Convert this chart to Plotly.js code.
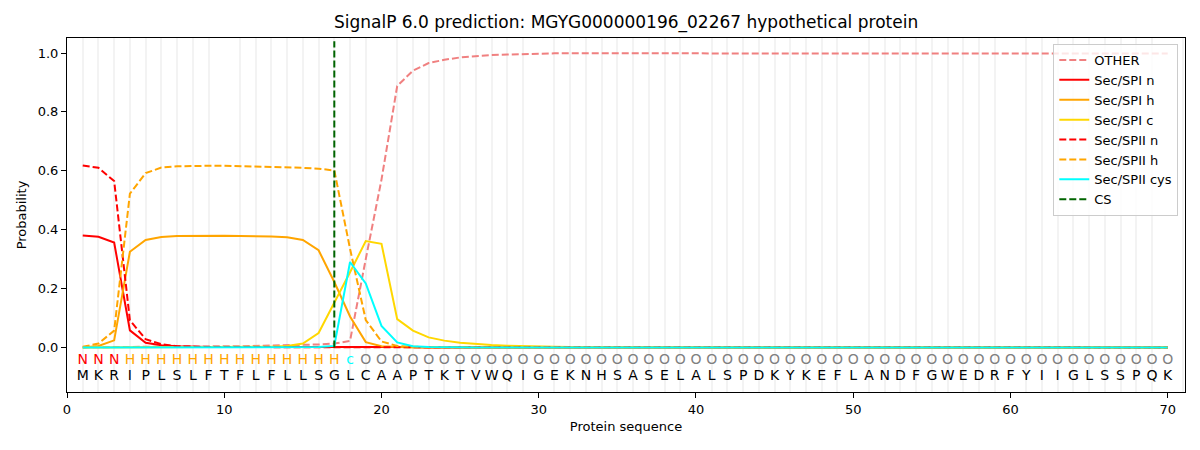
<!DOCTYPE html>
<html>
<head>
<meta charset="utf-8">
<script src="https://cdn.plot.ly/plotly-3.0.1.min.js"></script>
<style>
  body { margin: 0; background: #fff; }
  #chart { width: 1200px; height: 450px; }
</style>
</head>
<body>
<div id="chart"></div>
<script>
// residues and per-position region labels
const sequence = 'MKRIPLSLFTFLFLLSGLCAAPTKTVWQIGEKNHSASELALSPDKYKEFLANDFGWEDRFYIIGLSSPQK'.split('');
const regionLabels = 'NNNHHHHHHHHHHHHHHcOOOOOOOOOOOOOOOOOOOOOOOOOOOOOOOOOOOOOOOOOOOOOOOOOOOO'.split('');
const positions = sequence.map((s, i) => i + 1);
const csPos = 17;

// probabilities, positions 1..70
const other = [0.000, 0.001, 0.001, 0.002, 0.002, 0.002, 0.003, 0.003, 0.003, 0.004,
               0.004, 0.005, 0.006, 0.007, 0.008, 0.010, 0.013, 0.022, 0.300, 0.570,
               0.888, 0.940, 0.966, 0.977, 0.985, 0.990, 0.993, 0.995, 0.997, 0.998,
               0.999, 0.999, 0.999, 0.999, 0.999, 0.999, 0.999, 0.999, 0.999, 0.999,
               0.999, 0.999, 0.999, 0.999, 0.999, 0.999, 0.999, 0.999, 0.999, 0.999,
               0.999, 0.999, 0.999, 0.999, 0.999, 0.998, 0.998, 0.998, 0.998, 0.998,
               0.998, 0.998, 0.997, 0.997, 0.997, 0.997, 0.998, 0.998, 0.998, 0.998];
const spiN = [0.380, 0.376, 0.356, 0.058, 0.016, 0.007, 0.004, 0.002, 0.001, 0.001,
              0.001, 0.001, 0.001, 0.001, 0.001, 0.001, 0.002, 0.003, 0.003, 0.002,
              0.002, 0.001, 0.000, 0.000, 0.000, 0.000, 0.000, 0.000, 0.000, 0.000,
              0.000, 0.000, 0.000, 0.000, 0.000, 0.000, 0.000, 0.000, 0.000, 0.000,
              0.000, 0.000, 0.000, 0.000, 0.000, 0.000, 0.000, 0.000, 0.000, 0.000,
              0.000, 0.000, 0.000, 0.000, 0.000, 0.000, 0.000, 0.000, 0.000, 0.000,
              0.000, 0.001, 0.001, 0.001, 0.001, 0.001, 0.001, 0.001, 0.000, 0.000];
const spiH = [0.000, 0.005, 0.024, 0.325, 0.365, 0.375, 0.378, 0.379, 0.379, 0.379,
              0.378, 0.378, 0.377, 0.374, 0.365, 0.330, 0.222, 0.105, 0.018, 0.004,
              0.001, 0.000, 0.000, 0.000, 0.000, 0.000, 0.000, 0.000, 0.000, 0.000,
              0.000, 0.000, 0.000, 0.000, 0.000, 0.000, 0.000, 0.000, 0.000, 0.000,
              0.000, 0.000, 0.000, 0.000, 0.000, 0.000, 0.000, 0.000, 0.000, 0.000,
              0.000, 0.000, 0.000, 0.000, 0.000, 0.000, 0.000, 0.000, 0.000, 0.000,
              0.000, 0.000, 0.000, 0.000, 0.000, 0.000, 0.000, 0.000, 0.000, 0.000];
const spiC = [0.000, 0.000, 0.000, 0.000, 0.000, 0.000, 0.000, 0.000, 0.000, 0.001,
              0.001, 0.001, 0.002, 0.005, 0.013, 0.049, 0.150, 0.255, 0.361, 0.352,
              0.096, 0.057, 0.034, 0.023, 0.016, 0.011, 0.008, 0.006, 0.004, 0.003,
              0.002, 0.001, 0.001, 0.001, 0.001, 0.000, 0.000, 0.000, 0.000, 0.000,
              0.000, 0.000, 0.000, 0.000, 0.000, 0.000, 0.000, 0.000, 0.000, 0.000,
              0.000, 0.000, 0.000, 0.000, 0.000, 0.000, 0.000, 0.000, 0.000, 0.000,
              0.000, 0.000, 0.000, 0.000, 0.000, 0.000, 0.000, 0.000, 0.000, 0.000];
const spiiN = [0.618, 0.610, 0.565, 0.092, 0.028, 0.011, 0.004, 0.002, 0.001, 0.001,
               0.001, 0.000, 0.000, 0.000, 0.000, 0.000, 0.000, 0.000, 0.000, 0.000,
               0.000, 0.000, 0.000, 0.000, 0.000, 0.000, 0.000, 0.000, 0.000, 0.000,
               0.000, 0.000, 0.000, 0.000, 0.000, 0.000, 0.000, 0.000, 0.000, 0.000,
               0.000, 0.000, 0.000, 0.000, 0.000, 0.000, 0.000, 0.000, 0.000, 0.000,
               0.000, 0.000, 0.000, 0.000, 0.000, 0.000, 0.000, 0.000, 0.000, 0.000,
               0.000, 0.000, 0.000, 0.000, 0.000, 0.000, 0.000, 0.000, 0.000, 0.000];
const spiiH = [0.002, 0.013, 0.057, 0.522, 0.592, 0.611, 0.615, 0.617, 0.617, 0.617,
               0.616, 0.615, 0.614, 0.612, 0.610, 0.607, 0.601, 0.335, 0.093, 0.020,
               0.005, 0.002, 0.001, 0.000, 0.000, 0.000, 0.000, 0.000, 0.000, 0.000,
               0.000, 0.000, 0.000, 0.000, 0.000, 0.000, 0.000, 0.000, 0.000, 0.000,
               0.000, 0.000, 0.000, 0.000, 0.000, 0.000, 0.000, 0.000, 0.000, 0.000,
               0.000, 0.000, 0.000, 0.000, 0.000, 0.000, 0.000, 0.000, 0.000, 0.000,
               0.000, 0.001, 0.001, 0.001, 0.001, 0.001, 0.001, 0.001, 0.000, 0.000];
const spiiCys = [0.000, 0.000, 0.000, 0.000, 0.000, 0.000, 0.000, 0.000, 0.000, 0.000,
                 0.000, 0.000, 0.000, 0.000, 0.000, 0.001, 0.005, 0.290, 0.217, 0.073,
                 0.017, 0.004, 0.001, 0.000, 0.000, 0.000, 0.000, 0.000, 0.000, 0.000,
                 0.000, 0.000, 0.000, 0.000, 0.000, 0.000, 0.000, 0.000, 0.000, 0.000,
                 0.000, 0.000, 0.000, 0.000, 0.000, 0.000, 0.000, 0.000, 0.000, 0.000,
                 0.000, 0.000, 0.000, 0.000, 0.000, 0.000, 0.000, 0.000, 0.000, 0.000,
                 0.000, 0.000, 0.000, 0.000, 0.000, 0.001, 0.002, 0.002, 0.001, 0.000];

const labelColors = {N: 'red', H: 'orange', c: 'cyan', O: 'grey'};
const dash = '7px,3px';

function line(name, y, color, dashed) {
    return {x: positions, y: y, mode: 'lines', name: name,
            line: {color: color, width: 2, dash: dashed ? dash : 'solid'}};
}

const data = [
    line('OTHER', other, '#F08080', true),
    line('Sec/SPI n', spiN, 'red', false),
    line('Sec/SPI h', spiH, 'orange', false),
    line('Sec/SPI c', spiC, 'gold', false),
    line('Sec/SPII n', spiiN, 'red', true),
    line('Sec/SPII h', spiiH, 'orange', true),
    line('Sec/SPII cys', spiiCys, 'cyan', false),
    {x: [csPos, csPos], y: [0, 1.04], mode: 'lines', name: 'CS',
     line: {color: 'darkgreen', width: 2, dash: dash}},
    // region labels and residues under the curves
    {x: positions, y: positions.map(() => -0.046), mode: 'text', text: regionLabels,
     textfont: {family: 'DejaVu Sans', size: 14, color: regionLabels.map(l => labelColors[l])},
     showlegend: false, hoverinfo: 'skip'},
    {x: positions, y: positions.map(() => -0.098), mode: 'text', text: sequence,
     textfont: {family: 'DejaVu Sans', size: 14, color: 'black'},
     showlegend: false, hoverinfo: 'skip'}
];

const layout = {
    width: 1200, height: 450,
    margin: {l: 67, r: 15, t: 38, b: 58},
    paper_bgcolor: 'white', plot_bgcolor: 'white',
    font: {family: 'DejaVu Sans', size: 13, color: 'black'},
    title: {text: 'SignalP 6.0 prediction: MGYG000000196_02267 hypothetical protein',
            font: {size: 17}, x: 0.5217, xanchor: 'center', y: 0.95, yanchor: 'middle'},
    xaxis: {range: [0, 71.1], tickmode: 'linear', tick0: 0, dtick: 10,
            showgrid: false, zeroline: false,
            minor: {tick0: 0, dtick: 1, showgrid: true, gridcolor: '#f3f3f3', gridwidth: 1.5, ticks: ''},
            showline: true, mirror: true, linecolor: 'black', linewidth: 1,
            ticks: 'outside', ticklen: 5, tickcolor: 'black',
            title: {text: 'Protein sequence', font: {size: 13}, standoff: 6}},
    yaxis: {range: [-0.1515, 1.051], tickmode: 'linear', tick0: 0, dtick: 0.2, tickformat: '.1f',
            showgrid: false, zeroline: false,
            showline: true, mirror: true, linecolor: 'black', linewidth: 1,
            ticks: 'outside', ticklen: 5, tickcolor: 'black',
            title: {text: 'Probability', font: {size: 13}, standoff: 8}},
    legend: {x: 0.994, y: 0.983, xanchor: 'right', yanchor: 'top',
             bgcolor: 'rgba(255,255,255,0.8)', bordercolor: '#cccccc', borderwidth: 1,
             font: {size: 13}, tracegroupgap: 0},
    showlegend: true
};

Plotly.newPlot('chart', data, layout, {displayModeBar: false});
</script>
</body>
</html>
